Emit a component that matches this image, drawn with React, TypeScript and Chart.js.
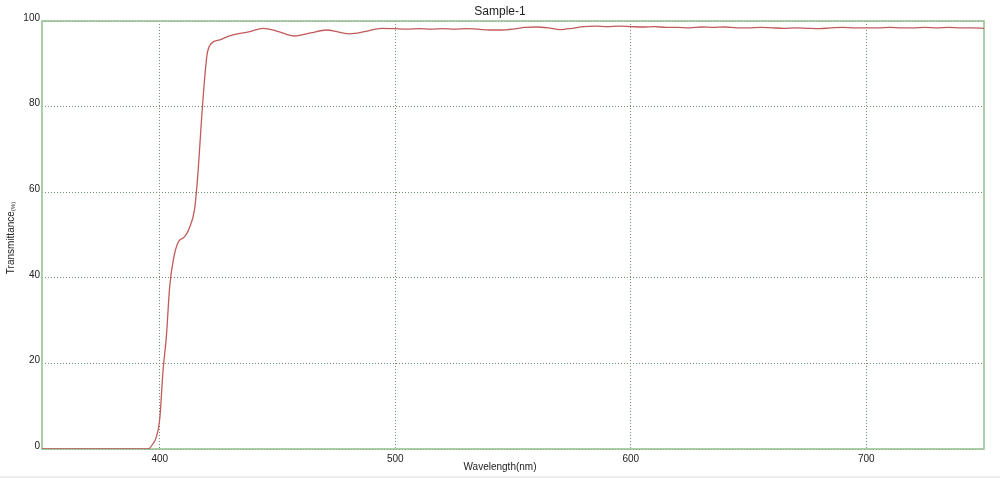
import { useEffect, useRef } from 'react';
import { Chart, registerables } from 'chart.js';

Chart.register(...registerables);

const chartTitle = 'Sample-1';
const xTitle = 'Wavelength(nm)';
const yTitleMain = 'Transmittance';
const yTitleUnit = '(%)';

const xTicks = [400, 500, 600, 700];
const yTicks = [0, 20, 40, 60, 80, 100];

const wavelength = [
  350, 395, 397.2, 398.6, 400, 401.4, 402.8, 404.2, 405.7, 407.8, 410.6, 412.7,
  414.9, 416.3, 417.7, 419.1, 420.1, 422, 425.5, 429.7, 434, 438.2, 443.9, 450,
  457.4, 464, 470.8, 476, 480.7, 487, 494.2, 500, 505, 510, 515, 520, 525, 530,
  535, 540, 545, 550, 555, 560, 565, 570, 575, 580, 585, 590, 595, 600, 605, 610,
  615, 620, 625, 630, 635, 640, 645, 650, 655, 660, 665, 670, 675, 680, 685, 690,
  695, 700, 705, 710, 715, 720, 725, 730, 735, 740, 745, 750,
];

const transmittance = [
  0, 0, 1.3, 2.9, 7.0, 18.4, 26.2, 37.8, 44.0, 48.3, 49.6, 51.8,
  56.5, 65.0, 76.7, 86.8, 92.2, 94.8, 95.6, 96.5, 97.1, 97.5, 98.3, 97.6,
  96.5, 97.2, 97.9, 97.4, 97.0, 97.5, 98.3, 98.2, 98.1, 98.2, 98.1, 98.2, 98.1, 98.2,
  98.1, 97.9, 97.9, 98.1, 98.5, 98.6, 98.4, 98.0, 98.3, 98.7, 98.8, 98.7, 98.8, 98.7, 98.6, 98.7,
  98.5, 98.5, 98.4, 98.6, 98.5, 98.6, 98.4, 98.4, 98.5, 98.4, 98.3, 98.4, 98.3, 98.2, 98.4, 98.5,
  98.4, 98.4, 98.4, 98.5, 98.4, 98.4, 98.5, 98.4, 98.5, 98.4, 98.4, 98.3,
];

const FONT = "'Liberation Sans', Arial, sans-serif";
const TEXT = '#222222';
const FRAME = '#8fbf8f';
const GRID = '#6f8f6f';
const LINE = '#c25a5a';

const decorPlugin = {
  id: 'decor',
  beforeDraw(chart: any) {
    const { ctx, width, height } = chart;
    ctx.save();
    ctx.fillStyle = '#ffffff';
    ctx.fillRect(0, 0, width, height);
    ctx.fillStyle = '#ececec';
    ctx.fillRect(0, height - 2, width, 2);
    ctx.restore();
  },
  beforeDatasetsDraw(chart: any) {
    const { ctx, chartArea } = chart;
    ctx.save();
    ctx.strokeStyle = FRAME;
    ctx.lineWidth = 1.5;
    ctx.strokeRect(chartArea.left, chartArea.top, chartArea.right - chartArea.left, chartArea.bottom - chartArea.top);
    ctx.restore();
  },
  afterDraw(chart: any) {
    const { ctx, width } = chart;
    ctx.save();
    ctx.fillStyle = TEXT;
    ctx.textAlign = 'center';
    ctx.textBaseline = 'middle';
    ctx.font = `12px ${FONT}`;
    ctx.fillText(chartTitle, width / 2, 12);
    ctx.font = `10px ${FONT}`;
    ctx.fillText(xTitle, width / 2, 467);
    // y title rotated
    ctx.translate(11, 238);
    ctx.rotate(-Math.PI / 2);
    ctx.font = `10px ${FONT}`;
    const mainW = ctx.measureText(yTitleMain).width;
    ctx.font = `6px ${FONT}`;
    const unitW = ctx.measureText(yTitleUnit).width;
    const total = mainW + unitW;
    ctx.textAlign = 'left';
    ctx.font = `10px ${FONT}`;
    ctx.fillText(yTitleMain, -total / 2, 0);
    ctx.font = `6px ${FONT}`;
    ctx.fillText(yTitleUnit, -total / 2 + mainW, 2);
    ctx.restore();
  },
};

export default function App() {
  const canvasRef = useRef<HTMLCanvasElement | null>(null);

  useEffect(() => {
    document.body.style.margin = '0';
    const canvas = canvasRef.current;
    if (!canvas) return;
    const chart = new Chart(canvas, {
      type: 'line',
      data: {
        datasets: [
          {
            data: wavelength.map((w, i) => ({ x: w, y: transmittance[i] })),
            borderColor: LINE,
            borderWidth: 1.3,
            pointRadius: 0,
            fill: false,
            cubicInterpolationMode: 'monotone',
          },
        ],
      },
      plugins: [decorPlugin],
      options: {
        animation: false,
        responsive: false,
        devicePixelRatio: 1,
        layout: { padding: { top: 21, right: 16, left: 0, bottom: 0 } },
        plugins: {
          legend: { display: false },
          title: { display: false },
          tooltip: { enabled: false },
        },
        scales: {
          x: {
            type: 'linear',
            min: 350,
            max: 750,
            afterBuildTicks: (s: any) => {
              s.ticks = xTicks.map((v) => ({ value: v }));
            },
            afterFit: (s: any) => {
              s.height = 29;
            },
            grid: { color: GRID, drawTicks: false, lineWidth: 1 },
            border: { display: false, dash: [1, 2] },
            ticks: {
              padding: 4,
              color: TEXT,
              font: { size: 10, family: FONT },
              maxRotation: 0,
              callback: (v: any) => String(v),
            },
          },
          y: {
            type: 'linear',
            min: 0,
            max: 100,
            afterBuildTicks: (s: any) => {
              s.ticks = yTicks.map((v) => ({ value: v }));
            },
            afterFit: (s: any) => {
              s.width = 42;
            },
            grid: { color: GRID, drawTicks: false, lineWidth: 1 },
            border: { display: false, dash: [1, 2] },
            ticks: {
              padding: 2,
              labelOffset: -3,
              color: TEXT,
              font: { size: 10, family: FONT },
              callback: (v: any) => String(v),
            },
          },
        },
      },
    } as any);
    return () => chart.destroy();
  }, []);

  return (
    <div style={{ width: 1000, height: 478, position: 'relative' }}>
      <canvas ref={canvasRef} width={1000} height={478} style={{ display: 'block' }} />
    </div>
  );
}
